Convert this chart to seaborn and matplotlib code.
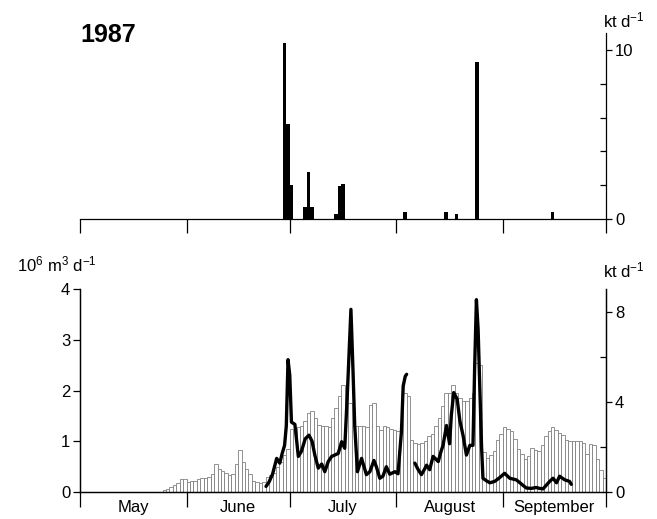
import matplotlib
matplotlib.use("Agg")
import matplotlib.pyplot as plt
import numpy as np
import pandas as pd
import seaborn as sns

# daily discharge (10^6 m^3 d^-1), one value per day from 1 May
may_q = [0.0] * 23 + [0.01, 0.03, 0.06, 0.10, 0.14, 0.18, 0.25, 0.25]
june_q = [0.20, 0.21, 0.22, 0.25, 0.27, 0.28, 0.30, 0.36, 0.55, 0.45,
          0.42, 0.38, 0.33, 0.36, 0.55, 0.82, 0.60, 0.45, 0.36, 0.22,
          0.20, 0.18, 0.20, 0.30, 0.33, 0.38, 0.50, 0.60, 0.72, 0.85]
july_q = [1.25, 1.20, 1.28, 1.30, 1.40, 1.55, 1.60, 1.45, 1.32, 1.30,
          1.30, 1.28, 1.45, 1.65, 1.90, 2.10, 2.05, 1.75, 1.30, 1.30,
          1.30, 1.30, 1.28, 1.72, 1.75, 1.30, 1.22, 1.30, 1.28, 1.25,
          1.22]
aug_q = [1.20, 1.20, 1.95, 1.90, 1.02, 0.97, 0.95, 0.97, 1.00, 1.10,
         1.15, 1.30, 1.45, 1.70, 1.95, 1.95, 2.10, 1.95, 1.85, 1.80,
         1.80, 1.85, 1.95, 2.55, 2.50, 0.78, 0.68, 0.72, 0.80, 1.02,
         1.15]
sep_q = [1.28, 1.25, 1.20, 1.05, 0.85, 0.75, 0.66, 0.70, 0.86, 0.82,
         0.80, 0.92, 1.10, 1.20, 1.28, 1.22, 1.16, 1.12, 1.02, 1.00,
         1.00, 1.00, 1.00, 0.96, 0.75, 0.95, 0.92, 0.66, 0.44, 0.28]
discharge = may_q + june_q + july_q + aug_q + sep_q

# suspended sediment flux (kt d^-1), days counted from 1 May
flux1_day = [54.1, 55.0, 56.0, 57.2, 58.1, 58.8, 59.5, 60.0, 60.5, 61.0,
             61.5, 62.5, 63.5, 64.4, 65.5, 66.6, 67.5, 68.3, 69.3, 70.3,
             71.2, 72.2, 73.2, 74.1, 75.1, 76.1, 77.0, 77.8, 78.8, 79.4,
             79.9, 80.7, 81.9, 83.3, 84.3, 85.5, 86.2, 87.2, 88.1, 89.1,
             90.1, 91.6, 92.5, 93.5, 94.0, 94.6, 95.0]
flux1 = [0.25, 0.45, 0.79, 1.49, 1.28, 1.71, 2.07, 2.93, 5.87, 5.20,
         3.10, 3.00, 1.58, 1.80, 2.36, 2.52, 2.25, 1.64, 1.06, 1.24,
         0.90, 1.35, 1.58, 1.64, 1.71, 2.23, 1.94, 4.50, 8.10, 5.40,
         2.95, 0.90, 1.49, 0.77, 0.90, 1.40, 1.12, 0.61, 0.70, 1.12,
         0.79, 0.90, 0.81, 2.70, 4.70, 5.13, 5.22]
flux2_day = [97.4, 98.3, 99.3, 100.2, 100.8, 101.7, 102.7, 103.5, 104.2, 105.0,
             105.6, 106.6, 107.5, 108.0, 108.7, 109.7, 110.5, 111.4, 112.4, 113.4,
             114.3, 114.8, 115.3, 115.8, 116.3, 116.8, 117.2, 118.2, 119.2, 120.6,
             122.0, 123.5, 125.0, 126.9, 128.5, 129.8, 131.2, 132.7, 133.7, 134.7,
             136.6, 137.6, 138.6, 139.5, 141.0, 142.4, 142.9]
flux2 = [1.28, 1.01, 0.77, 1.01, 1.19, 0.99, 1.58, 1.46, 1.35, 1.80,
         2.07, 2.95, 2.14, 3.40, 4.41, 4.12, 3.15, 2.52, 1.64, 2.07,
         2.07, 5.60, 8.53, 7.20, 4.57, 2.00, 0.61, 0.50, 0.41, 0.47,
         0.63, 0.83, 0.61, 0.54, 0.34, 0.18, 0.16, 0.20, 0.16, 0.14,
         0.47, 0.61, 0.41, 0.70, 0.54, 0.47, 0.34]

# top panel: daily flux events (kt d^-1)
event_day = [59, 60, 61, 65, 66, 67, 74, 75, 76, 94, 106, 109, 115, 137]
event_flux = [10.4, 5.6, 2.0, 0.7, 2.8, 0.7, 0.3, 1.95, 2.05, 0.4, 0.4, 0.3, 9.3, 0.4]

months = ["May", "June", "July", "August", "September"]
month_edges = [0, 31, 61, 92, 123, 153]

sns.set_style("ticks")
plt.rcParams["font.family"] = ["Liberation Sans", "DejaVu Sans"]
plt.rcParams["mathtext.default"] = "regular"
plt.rcParams["axes.linewidth"] = 0.9
for key in ["text.color", "xtick.color", "ytick.color", "axes.edgecolor", "axes.labelcolor"]:
    plt.rcParams[key] = "black"

fig = plt.figure(figsize=(6.57, 5.19), dpi=100)
fig.patch.set_facecolor("white")

# ---- top panel ----
ax_top = fig.add_axes([0.1218, 0.578, 0.8006, 0.3584])
ax_top.bar(event_day, event_flux, width=1, align="edge", color="black", linewidth=0)
ax_top.set_xlim(0, 153)
ax_top.set_ylim(0, 11)
sns.despine(ax=ax_top, left=True, right=False, top=True)
ax_top.yaxis.tick_right()
ax_top.set_yticks([0, 10])
ax_top.set_yticks([2, 4, 6, 8], minor=True)
ax_top.tick_params(axis="y", which="major", direction="out", length=4, width=0.9,
                   labelsize=12, pad=2.5)
ax_top.tick_params(axis="y", which="minor", direction="in", length=4, width=0.9)
ax_top.set_xticks(month_edges)
ax_top.set_xticklabels([])
ax_top.tick_params(axis="x", which="major", direction="out", length=10, width=0.9)
ax_top.text(0.0, 0.99, "1987", transform=ax_top.transAxes, fontsize=18,
            fontweight="bold", ha="left", va="center")
fig.text(603 / 657, 1 - 20 / 519, r"kt d$^{-1}$", fontsize=12, va="center", ha="left")

# ---- bottom panel ----
ax_bot = fig.add_axes([0.1218, 0.052, 0.8006, 0.391])
days = np.arange(len(discharge))
ax_bot.bar(days, discharge, width=1, align="edge", facecolor="white",
           edgecolor="#808080", linewidth=0.6)
ax_bot.set_xlim(0, 153)
ax_bot.set_ylim(0, 4)
ax_bot.set_yticks([0, 1, 2, 3, 4])
ax_bot.tick_params(axis="y", direction="out", length=5, width=0.9, labelsize=12, pad=2)
ax_bot.set_xticks(month_edges)
ax_bot.set_xticklabels([])
centers = [(a + b) / 2 for a, b in zip(month_edges[:-1], month_edges[1:])]
ax_bot.set_xticks(centers, minor=True)
ax_bot.set_xticklabels(months, minor=True)
ax_bot.tick_params(axis="x", which="major", direction="out", length=11, width=0.9)
ax_bot.tick_params(axis="x", which="minor", length=0, labelsize=12, pad=6)
ax_bot.spines["top"].set_visible(False)

ax_r = ax_bot.twinx()
flux_df = pd.DataFrame({
    "day": flux1_day + flux2_day,
    "flux": flux1 + flux2,
    "seg": [1] * len(flux1_day) + [2] * len(flux2_day),
})
sns.lineplot(data=flux_df, x="day", y="flux", units="seg", estimator=None,
             color="black", linewidth=2.4, ax=ax_r, legend=False)
ax_r.set_xlim(0, 153)
ax_r.set_ylim(0, 9)
ax_r.set_yticks([0, 4, 8])
ax_r.set_yticks([2, 6], minor=True)
ax_r.tick_params(axis="y", which="major", direction="out", length=4, width=0.9,
                 labelsize=12, pad=2.5)
ax_r.tick_params(axis="y", which="minor", direction="in", length=4, width=0.9)
ax_r.set_xlabel("")
ax_r.set_ylabel("")
ax_r.spines["top"].set_visible(False)

fig.text(17 / 657, 1 - 264 / 519, r"10$^6$ m$^3$ d$^{-1}$", fontsize=12, va="center", ha="left")
fig.text(603 / 657, 1 - 270 / 519, r"kt d$^{-1}$", fontsize=12, va="center", ha="left")

fig.savefig("out.png", dpi=100)
